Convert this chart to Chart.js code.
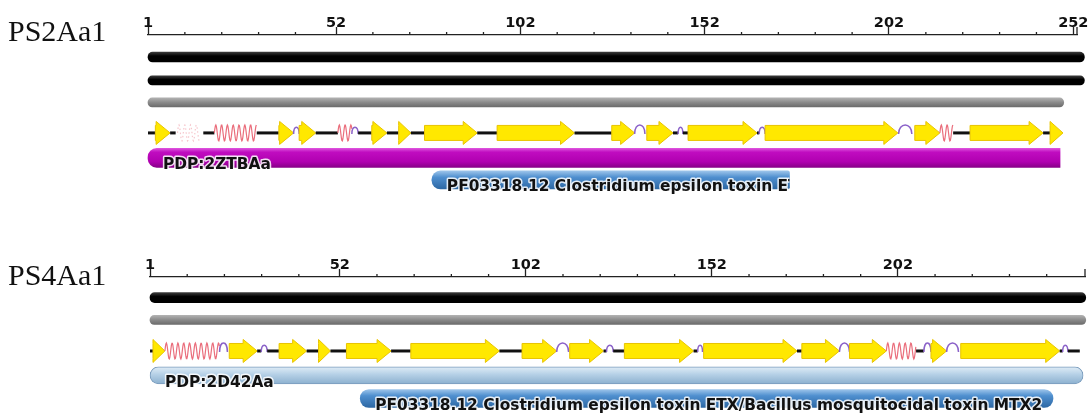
<!DOCTYPE html>
<html>
<head>
<meta charset="utf-8">
<script src="https://cdn.jsdelivr.net/npm/chart.js@4.4.1/dist/chart.umd.min.js"></script>
<style>
  body { margin: 0; background: #fff; }
  #wrap { position: relative; width: 1091px; height: 414px; overflow: hidden; }
  canvas { position: absolute; left: 0; }
  .name { position: absolute; left: 8px; font: 30px/30px 'Liberation Serif', 'Times New Roman', serif; color: #111; }
</style>
</head>
<body>
<div id="wrap">
  <canvas id="ps2" width="1091" height="207" style="top:0"></canvas>
  <canvas id="ps4" width="1091" height="207" style="top:207px"></canvas>
  <div class="name" style="top:16px">PS2Aa1</div>
  <div class="name" style="top:260px">PS4Aa1</div>
</div>
<script>
// ---- PS2Aa1 ----
const ps2Ticks = [1, 52, 102, 152, 202, 252];
const ps2RulerEnd = 253;
const ps2Seq = [1, 255];
const ps2Disorder = [1, 249.4];
const ps2Pdp = [1, 248.4];
const ps2Pfam = [78, 175];
// secondary structure: E strand, H helix, h weak helix, T turn, C coil
const ps2SS = [
    ['C', 1, 3], ['E', 3, 7], ['C', 7, 8.5], ['h', 9, 15], ['C', 16, 19],
    ['H', 19, 30.5], ['C', 30.5, 36.5], ['E', 36.5, 40.5], ['T', 40.5, 42],
    ['E', 42, 46.5], ['C', 46.5, 52.5], ['H', 52.5, 56.3], ['T', 56.3, 58],
    ['C', 58, 61.7], ['E', 61.7, 65.8], ['C', 65.8, 69], ['E', 69, 72.3],
    ['C', 72.3, 76], ['E', 76, 90.3], ['C', 90.3, 95.7], ['E', 95.7, 116.7],
    ['C', 116.7, 126.8], ['E', 126.8, 133], ['T', 133, 135.8], ['E', 136.3, 143.4],
    ['C', 143.4, 144.8], ['T', 144.8, 146.1], ['C', 146.1, 147.5], ['E', 147.5, 166.2],
    ['C', 166.2, 166.8], ['T', 166.8, 168.4], ['E', 168.4, 204.4], ['T', 204.6, 208.2],
    ['E', 209, 215.8], ['H', 215.8, 219.4], ['C', 219.4, 224], ['E', 224, 243.8],
    ['C', 243.8, 245.7], ['E', 245.7, 249.2]
];

// ---- PS4Aa1 ----
const ps4Ticks = [1, 52, 102, 152, 202];
const ps4RulerEnd = 252.3;
const ps4Seq = [1, 252.5];
const ps4Disorder = [1, 252.5];
const ps4Pdp = [1, 251.8];
const ps4Pfam = [57.5, 243.7];
const ps4SS = [
    ['C', 1, 1.8], ['E', 1.8, 5], ['H', 5, 19.7], ['T', 19.7, 21.8], ['E', 22.3, 29.8],
    ['C', 29.8, 30.9], ['T', 30.9, 32.5], ['C', 32.5, 35.7], ['E', 35.7, 43.1],
    ['C', 43.1, 46.3], ['E', 46.3, 49.5], ['C', 49.5, 53.8], ['E', 53.8, 65.8],
    ['C', 65.8, 71.1], ['E', 71.1, 94.9], ['C', 94.9, 101], ['E', 101, 110.3],
    ['T', 110.3, 113.5], ['E', 113.8, 122.9], ['C', 122.9, 123.7], ['T', 123.7, 125.5],
    ['C', 125.5, 128.5], ['E', 128.5, 147.1], ['C', 147.1, 148.2], ['T', 148.2, 149.5],
    ['E', 149.8, 174.9], ['C', 174.9, 176.2], ['E', 176.2, 186.3], ['T', 186.3, 189],
    ['E', 189, 198.9], ['H', 198.9, 206.9], ['C', 206.9, 209], ['T', 209, 210.9],
    ['E', 210.9, 215.1], ['T', 215.1, 218.3], ['E', 218.9, 245.5], ['C', 245.5, 246.3],
    ['T', 246.3, 247.7], ['C', 247.7, 250.9]
];

const pdpLabels = ['PDP:2ZTBAa', 'PDP:2D42Aa'];
const pfamLabel = 'PF03318.12 Clostridium epsilon toxin ETX/Bacillus mosquitocidal toxin MTX2';

const LABEL_FONT = 'bold 15.4px "DejaVu Sans"';

// vertical gradient for a horizontal bar, built from its own row
function vGradient(stops) {
    return function (ctx) {
        const chart = ctx.chart;
        if (!chart.chartArea || !ctx.raw) return stops[stops.length - 1][1];
        const y = chart.scales.y.getPixelForValue(ctx.raw.y);
        const h = ctx.dataset.maxBarThickness / 2;
        const g = chart.ctx.createLinearGradient(0, y - h, 0, y + h);
        stops.forEach(s => g.addColorStop(s[0], s[1]));
        return g;
    };
}

const black = vGradient([[0, '#3a3a3a'], [0.4, '#000'], [1, '#000']]);
const gray = vGradient([[0, '#b0b0b0'], [0.5, '#8a8a8a'], [1, '#6c6c6c']]);
const magenta = vGradient([[0, '#dc50dc'], [0.2, '#c00cc0'], [0.7, '#b000b0'], [1, '#880088']]);
const blue = vGradient([[0, '#9cc4ea'], [0.35, '#4f8fcf'], [1, '#2d68a4']]);
const lightBlue = vGradient([[0, '#dfecf6'], [0.45, '#b5d0e6'], [1, '#8cb0cf']]);

function track(range, row, thick, color, extra) {
    return Object.assign({
        data: [{ x: range, y: row }],
        maxBarThickness: thick,
        barPercentage: 1,
        categoryPercentage: 1,
        grouped: false,
        backgroundColor: color,
        borderWidth: 0,
        borderSkipped: false,
        borderRadius: thick / 2,
        clip: false
    }, extra || {});
}

// secondary structure cartoon along the residue axis
const ssPlugin = {
    id: 'ssTrack',
    afterDatasetsDraw(chart, args, opts) {
        const c = chart.ctx;
        const xs = chart.scales.x;
        const y = chart.scales.y.getPixelForValue(opts.row);
        c.save();
        opts.segments.forEach(seg => {
            const x1 = xs.getPixelForValue(seg[1]);
            const x2 = xs.getPixelForValue(seg[2]);
            if (seg[0] === 'C') {
                c.strokeStyle = '#111';
                c.lineWidth = 3;
                c.setLineDash([]);
                c.beginPath();
                c.moveTo(x1, y);
                c.lineTo(x2, y);
                c.stroke();
            } else if (seg[0] === 'E') {
                const head = Math.min(14, x2 - x1);
                c.beginPath();
                c.moveTo(x1, y - 7.5);
                c.lineTo(x2 - head, y - 7.5);
                c.lineTo(x2 - head, y - 11.5);
                c.lineTo(x2, y);
                c.lineTo(x2 - head, y + 11.5);
                c.lineTo(x2 - head, y + 7.5);
                c.lineTo(x1, y + 7.5);
                c.closePath();
                c.fillStyle = '#ffe800';
                c.fill();
                c.strokeStyle = '#e8c400';
                c.lineWidth = 1;
                c.setLineDash([]);
                c.stroke();
            } else if (seg[0] === 'H' || seg[0] === 'h') {
                const faint = seg[0] === 'h';
                c.strokeStyle = faint ? '#f6c6cc' : '#ea6e7c';
                c.lineWidth = 1.2;
                c.setLineDash(faint ? [1.5, 2.5] : []);
                c.beginPath();
                for (let px = x1; px <= x2; px += 0.5) {
                    const yy = y - 8 * Math.sin((px - x1) / 5.8 * 2 * Math.PI);
                    if (px === x1) c.moveTo(px, yy); else c.lineTo(px, yy);
                }
                c.stroke();
            } else if (seg[0] === 'T') {
                const h = (x2 - x1) > 7 ? 11 : 8;
                c.strokeStyle = '#8b62c9';
                c.lineWidth = 1.5;
                c.setLineDash([]);
                c.beginPath();
                c.moveTo(x1, y + 1);
                c.bezierCurveTo(x1, y - h, x2, y - h, x2, y + 1);
                c.stroke();
            }
        });
        c.restore();
    }
};

// ruler minor ticks, end cap and ribbon labels
const rulerPlugin = {
    id: 'rulerExtras',
    afterDraw(chart) {
        const c = chart.ctx;
        const xs = chart.scales.x;
        const top = chart.chartArea.top;
        c.save();
        c.strokeStyle = '#222';
        c.lineWidth = 1.3;
        xs.ticks.forEach(t => {
            for (let k = 1; k <= 4; k++) {
                const v = t.value + 10 * k;
                if (v >= xs.max) break;
                const px = xs.getPixelForValue(v);
                c.beginPath();
                c.moveTo(px, top - 3);
                c.lineTo(px, top);
                c.stroke();
            }
        });
        const pe = xs.getPixelForValue(xs.max);
        c.beginPath();
        c.moveTo(pe, top - 8);
        c.lineTo(pe, top);
        c.stroke();

        // ribbon labels (clipped to their bar)
        chart.data.datasets.forEach((ds, i) => {
            if (!ds.ribbonLabel) return;
            const el = chart.getDatasetMeta(i).data[0];
            const p = el.getProps(['x', 'y', 'base', 'height'], true);
            const left = Math.min(p.x, p.base);
            const right = Math.max(p.x, p.base);
            c.save();
            c.beginPath();
            c.rect(left, p.y - 20, right - left, 40);
            c.clip();
            c.font = LABEL_FONT;
            c.textBaseline = 'alphabetic';
            c.textAlign = 'left';
            c.lineJoin = 'round';
            c.lineWidth = 3;
            c.strokeStyle = 'rgba(255,255,255,0.85)';
            c.strokeText(ds.ribbonLabel, left + 15, p.y + 11.5);
            c.fillStyle = '#111';
            c.fillText(ds.ribbonLabel, left + 15, p.y + 11.5);
            c.restore();
        });
        c.restore();
    }
};

function makeChart(id, cfg) {
    return new Chart(document.getElementById(id), {
        type: 'bar',
        data: { datasets: cfg.datasets },
        options: {
            indexAxis: 'y',
            responsive: false,
            animation: false,
            events: [],
            layout: { padding: { left: cfg.left, right: cfg.right, top: 0, bottom: 0 } },
            plugins: {
                legend: { display: false },
                tooltip: { enabled: false },
                ssTrack: { segments: cfg.ss, row: cfg.ssRow }
            },
            scales: {
                x: {
                    type: 'linear',
                    position: 'top',
                    min: 1,
                    max: cfg.rulerEnd,
                    afterBuildTicks: s => { s.ticks = cfg.ticks.map(v => ({ value: v })); },
                    afterFit: s => { s.height = cfg.axisHeight; },
                    grid: { drawOnChartArea: false, drawTicks: true, tickLength: 8, tickColor: '#222', tickWidth: 1.3 },
                    border: { display: true, color: '#222', width: 1.3 },
                    ticks: {
                        padding: -5,
                        maxRotation: 0,
                        autoSkip: false,
                        color: '#111',
                        font: { family: 'DejaVu Sans', size: 14.5, weight: 'bold' }
                    }
                },
                y: {
                    type: 'linear',
                    display: false,
                    reverse: true,
                    min: 0,
                    max: cfg.rows,
                    afterBuildTicks: s => { s.ticks = []; }
                }
            }
        },
        plugins: [ssPlugin, rulerPlugin]
    });
}

makeChart('ps2', {
    ticks: ps2Ticks, rulerEnd: ps2RulerEnd, axisHeight: 35, rows: 7.5,
    left: 148, right: 14, ss: ps2SS, ssRow: 4.27,
    datasets: [
        track(ps2Seq, 0.96, 10, black),
        track(ps2Seq, 1.98, 9, black),
        track(ps2Disorder, 2.94, 9, gray),
        track(ps2Pdp, 5.36, 19, magenta, { borderRadius: { topLeft: 9, bottomLeft: 9, topRight: 0, bottomRight: 0 }, ribbonLabel: pdpLabels[0] }),
        track(ps2Pfam, 6.32, 18, blue, { borderRadius: { topLeft: 9, bottomLeft: 9, topRight: 2, bottomRight: 2 }, ribbonLabel: pfamLabel })
    ]
});

makeChart('ps4', {
    ticks: ps4Ticks, rulerEnd: ps4RulerEnd, axisHeight: 70, rows: 6,
    left: 150, right: 6, ss: ps4SS, ssRow: 3.24,
    datasets: [
        track(ps4Seq, 0.90, 10, black),
        track(ps4Disorder, 1.88, 9, gray),
        track(ps4Pdp, 4.31, 17, lightBlue, { borderWidth: 1, borderColor: '#7a9cbd', ribbonLabel: pdpLabels[1] }),
        track(ps4Pfam, 5.32, 18, blue, { ribbonLabel: pfamLabel })
    ]
});
</script>
</body>
</html>
